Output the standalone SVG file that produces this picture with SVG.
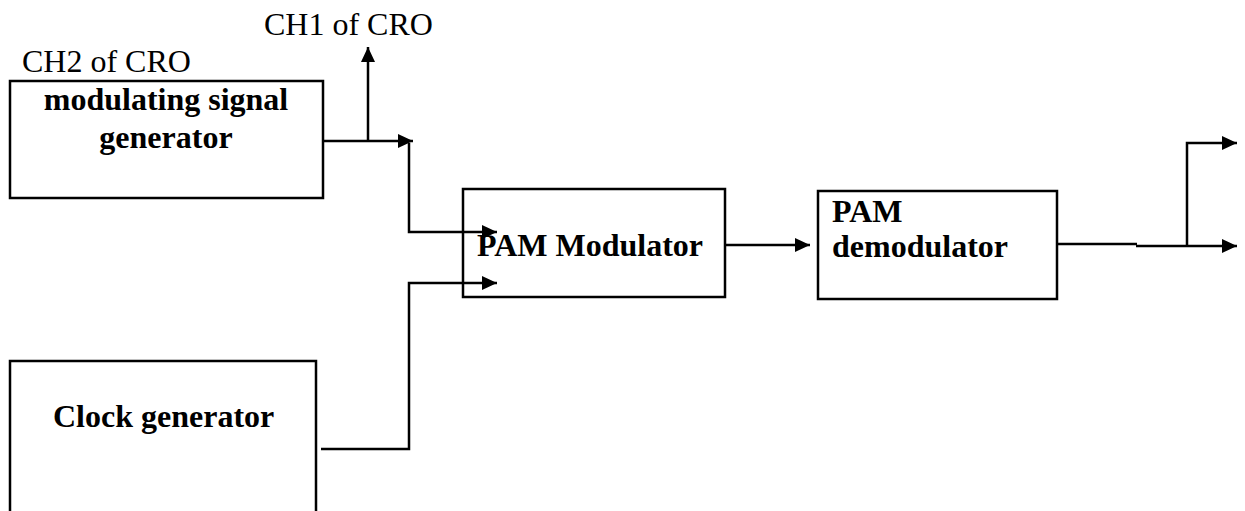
<svg xmlns="http://www.w3.org/2000/svg" width="1245" height="511" viewBox="0 0 1245 511">
<style>
.box{fill:#fff;stroke:#000;stroke-width:2.5}
.lbl{font-family:"Liberation Serif","Times New Roman",serif;font-size:32px;font-weight:bold;fill:#000}
.note{font-family:"Liberation Serif","Times New Roman",serif;font-size:32px;fill:#000}
.wire{fill:none;stroke:#000;stroke-width:2.5}
</style>
<defs>
<marker id="ah" markerUnits="userSpaceOnUse" markerWidth="16" markerHeight="14" refX="15" refY="7" orient="auto">
<path d="M0,0 L15,7 L0,14 z" fill="#000"/>
</marker>
</defs>
<rect width="1245" height="511" fill="#fff"/>
<g id="ch2-label"><text class="note" x="22" y="72">CH2 of CRO</text></g>
<g id="ch1-label"><text class="note" x="264" y="35">CH1 of CRO</text></g>
<g id="modulating-signal-generator">
<rect class="box" x="10" y="81" width="313" height="117"/>
<text class="lbl" x="166" y="110" text-anchor="middle">modulating signal</text>
<text class="lbl" x="166" y="148" text-anchor="middle">generator</text>
</g>
<g id="clock-generator">
<rect class="box" x="10" y="361" width="306" height="160"/>
<text class="lbl" x="53" y="427">Clock generator</text>
</g>
<g id="pam-modulator">
<rect class="box" x="463" y="189" width="262" height="108"/>
<text class="lbl" x="477" y="256">PAM Modulator</text>
</g>
<g id="pam-demodulator">
<rect class="box" x="818" y="191" width="239" height="108"/>
<text class="lbl" x="832" y="222">PAM</text>
<text class="lbl" x="832" y="257">demodulator</text>
</g>
<g id="connectors">
<path class="wire" d="M322,141 H413" marker-end="url(#ah)"/>
<path class="wire" d="M368,141 V47" marker-end="url(#ah)"/>
<path class="wire" d="M409,143 V232 H497" marker-end="url(#ah)"/>
<path class="wire" d="M321,449 H409 V283 H497" marker-end="url(#ah)"/>
<path class="wire" d="M725,245 H810" marker-end="url(#ah)"/>
<path class="wire" d="M1057,244 H1137"/>
<path class="wire" d="M1136,246 H1237" marker-end="url(#ah)"/>
<path class="wire" d="M1187,246 V143 H1237" marker-end="url(#ah)"/>
</g>
</svg>
